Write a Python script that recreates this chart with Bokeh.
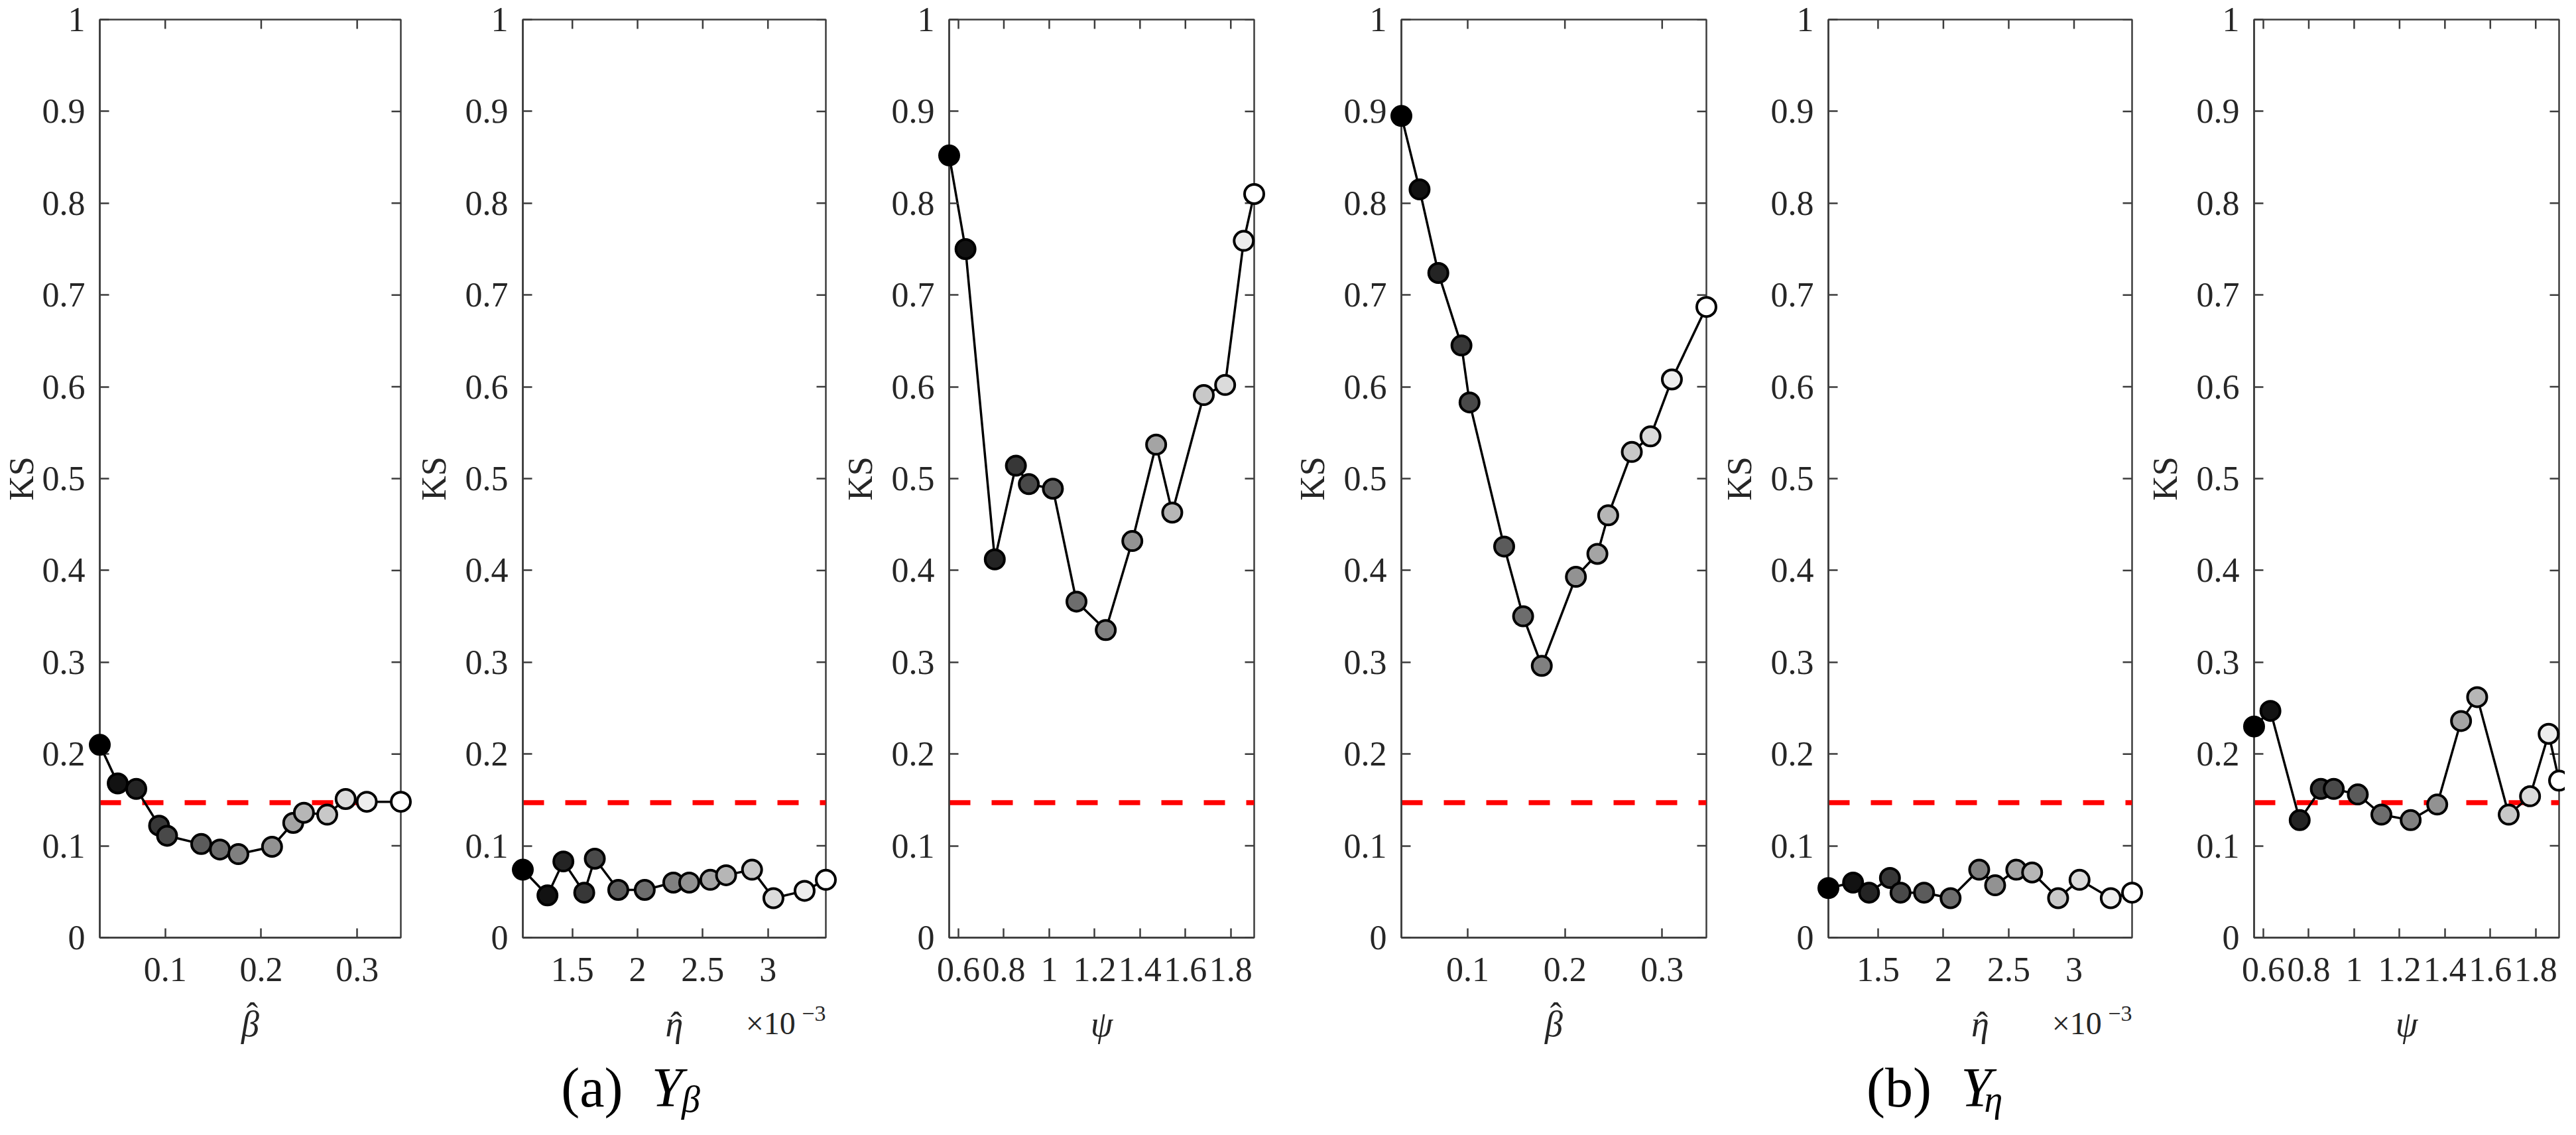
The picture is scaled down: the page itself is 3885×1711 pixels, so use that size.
import math
from bokeh.plotting import figure
from bokeh.layouts import row
from bokeh.models import FixedTicker, Range1d, Span, ColumnDataSource
from bokeh.core.properties import value
from bokeh.embed import file_html
from bokeh.resources import INLINE

# ---------------- data ----------------
beta_hat = [0.0318, 0.0505, 0.0698, 0.0936, 0.1019, 0.1375, 0.1570, 0.1762,
            0.2113, 0.2334, 0.2445, 0.2688, 0.2880, 0.3100, 0.3455]
eta_hat_e3 = [1.120, 1.309, 1.431, 1.591, 1.672, 1.852, 2.055, 2.274,
              2.396, 2.558, 2.679, 2.878, 3.042, 3.281, 3.444]   # x 10^-3
psi = [0.559, 0.631, 0.760, 0.853, 0.910, 1.016, 1.120, 1.249,
       1.366, 1.471, 1.542, 1.681, 1.775, 1.857, 1.903]

# (a) Y_beta
ks_a_beta = [0.210, 0.168, 0.162, 0.122, 0.111, 0.102, 0.096, 0.091,
             0.099, 0.125, 0.136, 0.134, 0.151, 0.148, 0.148]
ks_a_eta = [0.074, 0.046, 0.083, 0.049, 0.086, 0.052, 0.052, 0.060,
            0.060, 0.063, 0.068, 0.074, 0.043, 0.051, 0.063]
ks_a_psi = [0.852, 0.750, 0.412, 0.514, 0.494, 0.489, 0.366, 0.335,
            0.432, 0.537, 0.463, 0.591, 0.602, 0.759, 0.810]
# (b) Y_eta
ks_b_beta = [0.895, 0.815, 0.724, 0.645, 0.583, 0.426, 0.350, 0.296,
             0.393, 0.418, 0.460, 0.529, 0.546, 0.608, 0.687]
ks_b_eta = [0.054, 0.060, 0.049, 0.065, 0.049, 0.049, 0.043, 0.074,
            0.057, 0.074, 0.071, 0.043, 0.063, 0.043, 0.049]
ks_b_psi = [0.230, 0.247, 0.128, 0.162, 0.162, 0.156, 0.134, 0.128,
            0.145, 0.236, 0.262, 0.134, 0.154, 0.222, 0.171]

ks_critical = 0.147

y_ticks = [0, 0.1, 0.2, 0.3, 0.4, 0.5, 0.6, 0.7, 0.8, 0.9, 1]
y_tick_labels = ["0", "0.1", "0.2", "0.3", "0.4", "0.5", "0.6", "0.7", "0.8", "0.9", "1"]
beta_ticks = [0.1, 0.2, 0.3]
beta_tick_labels = ["0.1", "0.2", "0.3"]
eta_ticks = [1.5, 2, 2.5, 3]
eta_tick_labels = ["1.5", "2", "2.5", "3"]
psi_ticks = [0.6, 0.8, 1.0, 1.2, 1.4, 1.6, 1.8]
psi_tick_labels = ["0.6", "0.8", "1", "1.2", "1.4", "1.6", "1.8"]

# ---------------- style ----------------
FONT = "Liberation Serif"
AXIS_COLOR = "#3d3d3d"
TEXT_COLOR = "#262626"
FRAME_W, FRAME_H = 460, 1384
FIG_H = 1695
TOP = 29
BOTTOM = FIG_H - TOP - FRAME_H
TICK_FS = "52px"

n = len(beta_hat)
gray = [round(255 * i / (n - 1)) for i in range(n)]
marker_colors = ["#%02x%02x%02x" % (g, g, g) for g in gray]


def style_axis(ax, ticks, labels):
    ax.ticker = FixedTicker(ticks=ticks)
    ax.major_label_overrides = dict(zip(ticks, labels))
    ax.major_tick_in = 14
    ax.major_tick_out = 0
    ax.minor_tick_in = 0
    ax.minor_tick_out = 0
    ax.axis_line_color = AXIS_COLOR
    ax.axis_line_width = 2.5
    ax.major_tick_line_color = AXIS_COLOR
    ax.major_tick_line_width = 2.5
    ax.major_label_text_font = FONT
    ax.major_label_text_font_size = TICK_FS
    ax.major_label_text_color = TEXT_COLOR
    ax.axis_label_text_font = FONT
    ax.axis_label_text_font_size = TICK_FS
    ax.axis_label_text_color = TEXT_COLOR


def dx(p, px):
    r = p.x_range
    return r.start + px / FRAME_W * (r.end - r.start)


def dy(px_below):
    return -px_below / FRAME_H


def put_text(p, px, below, txt, size, style="normal", align="center",
             color=TEXT_COLOR, baseline="alphabetic"):
    p.text(x=[dx(p, px)], y=[dy(below)], text=[txt], text_font=value(FONT),
           text_font_size=size, text_font_style=style, text_color=color,
           text_align=align, text_baseline=baseline, level="annotation")


def make_panel(x, ks, xt, xtl, xlabel, hat, fig_w, left, right, ylab_standoff):
    p = figure(width=fig_w, height=FIG_H,
               x_range=Range1d(min(x), max(x)), y_range=Range1d(0, 1),
               output_backend="svg", toolbar_location=None,
               min_border_left=left, min_border_right=right,
               min_border_top=TOP, min_border_bottom=BOTTOM,
               outline_line_color=AXIS_COLOR, outline_line_width=2.5,
               background_fill_color="white", border_fill_color="white")
    p.xgrid.visible = False
    p.ygrid.visible = False

    xa = p.xaxis[0]
    style_axis(xa, xt, xtl)
    xa.major_label_standoff = 30

    ya = p.yaxis[0]
    style_axis(ya, y_ticks, y_tick_labels)
    ya.major_label_standoff = 22
    ya.axis_label = "KS"
    ya.axis_label_text_font_style = "normal"
    ya.axis_label_standoff = ylab_standoff

    # inward ticks on the top and right edges of the box
    p.ray(x=xt, y=[p.y_range.end] * len(xt), length=14, length_units="screen",
          angle=-math.pi / 2, line_color=AXIS_COLOR, line_width=2.5)
    p.ray(x=[p.x_range.end] * len(y_ticks), y=y_ticks, length=14, length_units="screen",
          angle=math.pi, line_color=AXIS_COLOR, line_width=2.5)

    p.add_layout(Span(location=ks_critical, dimension="width", line_color="#ff0000",
                      line_width=7.5, line_dash="32 32", level="underlay"))

    src = ColumnDataSource(dict(x=x, ks=ks, c=marker_colors))
    p.line("x", "ks", source=src, line_color="black", line_width=3.5)
    p.scatter("x", "ks", source=src, size=29, fill_color="c", line_color="black",
              line_width=4, level="annotation")

    # x-axis label (italic symbol, with hat where needed)
    put_text(p, FRAME_W / 2, 130, xlabel, "54px", style="italic")
    if hat is not None:
        put_text(p, FRAME_W / 2 + 3, hat, "ˆ", "52px")
    return p


def add_exponent(p):
    put_text(p, FRAME_W - 46, 129, "×10", "48px", align="right")
    put_text(p, FRAME_W, 114, "−3", "34px", align="right")


def add_caption(p, tag, sub, x_tag, x_y, x_sub):
    # anchored by the top of the text box
    put_text(p, x_tag, 179, tag, "84px", color="black", baseline="top")
    put_text(p, x_y, 179, "Y", "84px", style="italic", color="black", baseline="top")
    put_text(p, x_sub, 212, sub, "56px", style="italic", color="black", baseline="top")


p1 = make_panel(beta_hat, ks_a_beta, beta_ticks, beta_tick_labels, "β", 117, 622, 144, 18, 0)
p2 = make_panel(eta_hat_e3, ks_a_eta, eta_ticks, eta_tick_labels, "η", 131, 641, 163, 18, 16)
p3 = make_panel(psi, ks_a_psi, psi_ticks, psi_tick_labels, "ψ", None, 646, 168, 18, 16)
p4 = make_panel(beta_hat, ks_b_beta, beta_ticks, beta_tick_labels, "β", 117, 682, 204, 18, 16)
p5 = make_panel(eta_hat_e3, ks_b_eta, eta_ticks, eta_tick_labels, "η", 131, 642, 164, 18, 16)
p6 = make_panel(psi, ks_b_psi, psi_ticks, psi_tick_labels, "ψ", None, 635, 166, 9, 16)

add_exponent(p2)
add_exponent(p5)
add_caption(p2, "(a)", "β", 105, 219, 255)
add_caption(p5, "(b)", "η", 107, 224, 250)

layout = row(p1, p2, p3, p4, p5, p6, spacing=0)
open("out.html", "w").write(file_html(layout, INLINE))
